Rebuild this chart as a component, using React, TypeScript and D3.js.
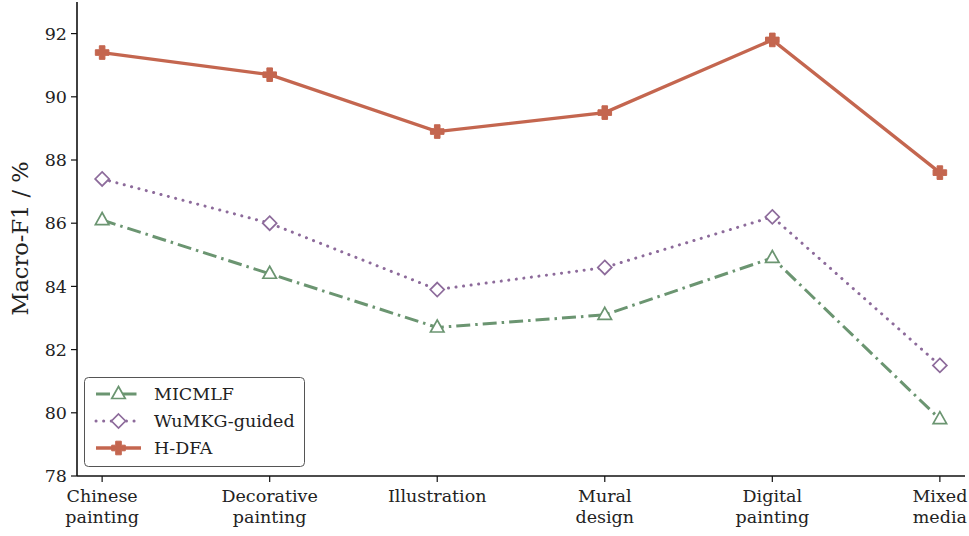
import React from "react";
import * as d3 from "d3";

const categories = [["Chinese", "painting"], ["Decorative", "painting"], ["Illustration"], ["Mural", "design"], ["Digital", "painting"], ["Mixed", "media"]];
const seriesNames = ["MICMLF", "WuMKG-guided", "H-DFA"];
const micmlf = [86.1, 84.4, 82.7, 83.1, 84.9, 79.8];
const wumkg = [87.4, 86.0, 83.9, 84.6, 86.2, 81.5];
const hdfa = [91.4, 90.7, 88.9, 89.5, 91.8, 87.6];
const yTicks = [78, 80, 82, 84, 86, 88, 90, 92];

const W = 969, H = 536;
const left = 77, right = 965, top = 2, bottom = 476;
const font = "DejaVu Serif";
const fs = 17.5;

const colors = ["#6b9571", "#8d6b9b", "#c4664f"];
const dashes = ["14,5,2.5,5", "0.1,7.5", ""];
const widths = [3, 3, 3.3];
const caps: ("butt" | "round")[] = ["butt", "round", "butt"];

function Marker({ kind, x, y, color }: { kind: number; x: number; y: number; color: string }) {
  if (kind === 0) {
    const r = 7.5;
    const p = `M${x},${y - r} L${x + r * 0.9},${y + r * 0.6} L${x - r * 0.9},${y + r * 0.6} Z`;
    return <path d={p} fill="white" stroke={color} strokeWidth={1.7} />;
  }
  if (kind === 1) {
    const r = 7;
    const p = `M${x},${y - r} L${x + r},${y} L${x},${y + r} L${x - r},${y} Z`;
    return <path d={p} fill="white" stroke={color} strokeWidth={1.7} />;
  }
  const a = 6.8, b = 2.8;
  const p = `M${x - b},${y - a} H${x + b} V${y - b} H${x + a} V${y + b} H${x + b} V${y + a} H${x - b} V${y + b} H${x - a} V${y - b} H${x - b} Z`;
  return <path d={p} fill={color} stroke={color} strokeWidth={1} />;
}

export default function App() {
  const x = d3.scaleLinear().domain([-0.15, 5.15]).range([left, right]);
  const y = d3.scaleLinear().domain([78, 93]).range([bottom, top]);
  const data = [micmlf, wumkg, hdfa];
  const line = d3.line<number>().x((_, i) => x(i)).y((d) => y(d));

  return (
    <svg width={W} height={H} style={{ position: "absolute", left: 0, top: 0 }} fontFamily={font}>
      <rect width={W} height={H} fill="white" />
      {data.map((s, k) => (
        <path key={k} d={line(s) || ""} fill="none" stroke={colors[k]} strokeWidth={widths[k]} strokeDasharray={dashes[k]} strokeLinecap={caps[k]} />
      ))}
      {data.map((s, k) => s.map((v, i) => <Marker key={`${k}-${i}`} kind={k} x={x(i)} y={y(v)} color={colors[k]} />))}
      <line x1={left} x2={left} y1={top} y2={bottom} stroke="#111" strokeWidth={1.6} />
      <line x1={left} x2={right} y1={bottom} y2={bottom} stroke="#111" strokeWidth={1.6} />
      {yTicks.map((t) => (
        <g key={t}>
          <line x1={left - 6} x2={left} y1={y(t)} y2={y(t)} stroke="#111" strokeWidth={1.2} />
          <text x={left - 10} y={y(t)} dy="0.35em" textAnchor="end" fontSize={fs} fill="#222">{t}</text>
        </g>
      ))}
      {categories.map((c, i) => (
        <g key={i}>
          <line x1={x(i)} x2={x(i)} y1={bottom} y2={bottom + 6} stroke="#111" strokeWidth={1.2} />
          {c.map((ln, j) => (
            <text key={j} x={x(i)} y={bottom + 26 + j * 21} textAnchor="middle" fontSize={fs} fill="#222">{ln}</text>
          ))}
        </g>
      ))}
      <text transform={`translate(28,238.5) rotate(-90)`} textAnchor="middle" fontSize={22.5} fill="#222">Macro-F1 / %</text>
      <rect x={84.5} y={377.5} width={220} height={89} rx={4} fill="white" fillOpacity={0.85} stroke="#555" strokeWidth={1} />
      {seriesNames.map((n, k) => {
        const ly = 394 + k * 27;
        return (
          <g key={n}>
            <line x1={96} x2={141} y1={ly} y2={ly} stroke={colors[k]} strokeWidth={widths[k]} strokeDasharray={dashes[k]} strokeLinecap={caps[k]} />
            <Marker kind={k} x={118.5} y={ly} color={colors[k]} />
            <text x={154} y={ly} dy="0.35em" fontSize={fs} fill="#222">{n}</text>
          </g>
        );
      })}
    </svg>
  );
}
